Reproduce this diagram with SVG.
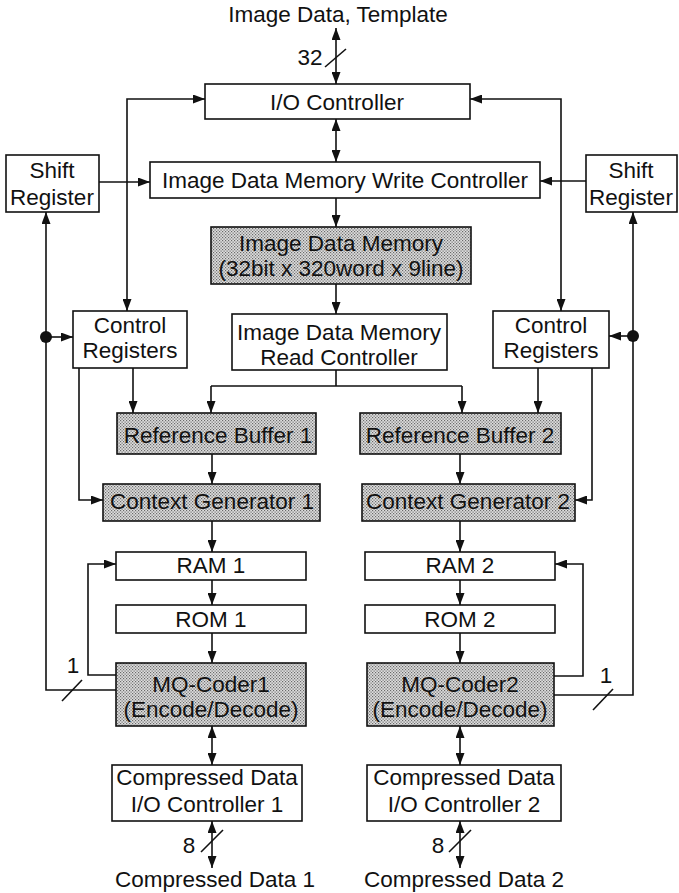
<svg xmlns="http://www.w3.org/2000/svg" width="679" height="893" viewBox="0 0 679 893">
  <style>
    .box { fill: #ffffff; stroke: #111111; stroke-width: 1.6; }
    .shade { fill: url(#halftone); stroke: #111111; stroke-width: 1.6; }
    .lbl { font-family: "Liberation Sans", Arial, Helvetica, sans-serif; font-size: 22.5px; fill: #111111; text-anchor: middle; }
    .wire { fill: none; stroke: #111111; stroke-width: 1.6; }
    .arr { marker-end: url(#head); }
    .arr2 { marker-start: url(#head); marker-end: url(#head); }
  </style>
  <defs>
    <!-- halftone screen used for the shaded blocks -->
    <pattern id="halftone" width="3" height="3" patternUnits="userSpaceOnUse">
      <rect width="3" height="3" fill="#dedede"/>
      <rect x="0" y="0" width="1.2" height="1.2" fill="#6a6a6a"/>
      <rect x="1.5" y="1.5" width="1.2" height="1.2" fill="#6a6a6a"/>
    </pattern>
    <marker id="head" viewBox="0 0 12 9" refX="12" refY="4.5" markerWidth="12" markerHeight="9" markerUnits="userSpaceOnUse" orient="auto-start-reverse">
      <path d="M0,0 L12,4.5 L0,9 z" fill="#111111"/>
    </marker>
  </defs>

  <!-- external labels -->
  <text class="lbl" x="338" y="22">Image Data, Template</text>
  <text class="lbl" x="310" y="65">32</text>
  <text class="lbl" x="73" y="673">1</text>
  <text class="lbl" x="606" y="683">1</text>
  <text class="lbl" x="189" y="853">8</text>
  <text class="lbl" x="438" y="853">8</text>
  <text class="lbl" x="215" y="887">Compressed Data 1</text>
  <text class="lbl" x="464" y="887">Compressed Data 2</text>

  <!-- connectors -->
  <g id="connectors">
    <line class="wire arr2" x1="336" y1="28" x2="336" y2="84"/>
    <line class="wire" x1="325" y1="67" x2="346" y2="49"/>
    <line class="wire arr2" x1="336" y1="119" x2="336" y2="162"/>
    <path class="wire arr2" d="M127,311 V99 H205"/>
    <path class="wire arr2" d="M561,311 V99 H470"/>
    <line class="wire arr" x1="99" y1="182" x2="150" y2="182"/>
    <line class="wire arr" x1="586" y1="181" x2="540" y2="181"/>
    <line class="wire arr" x1="336" y1="198" x2="336" y2="227"/>
    <line class="wire arr" x1="336" y1="284" x2="336" y2="314"/>

    <!-- read controller fan-out -->
    <path class="wire" d="M336,370 V386 M211,386 H462"/>
    <path class="wire arr" d="M211,386 V413"/>
    <path class="wire arr" d="M462,386 V413"/>

    <!-- control registers to buffers and context generators -->
    <line class="wire arr" x1="133" y1="368" x2="133" y2="413"/>
    <path class="wire arr" d="M79,368 V500 H103"/>
    <line class="wire arr" x1="538" y1="368" x2="538" y2="413"/>
    <path class="wire arr" d="M592,368 V500 H575"/>

    <!-- channel 1 pipeline -->
    <line class="wire arr" x1="212" y1="454" x2="212" y2="484"/>
    <line class="wire arr" x1="212" y1="521" x2="212" y2="552"/>
    <line class="wire arr" x1="212" y1="580" x2="212" y2="605"/>
    <line class="wire arr" x1="212" y1="633" x2="212" y2="663"/>
    <line class="wire arr2" x1="212" y1="726" x2="212" y2="765"/>
    <line class="wire arr2" x1="212" y1="821" x2="212" y2="868"/>
    <line class="wire" x1="201" y1="852" x2="223" y2="830"/>

    <!-- channel 2 pipeline -->
    <line class="wire arr" x1="460" y1="454" x2="460" y2="484"/>
    <line class="wire arr" x1="460" y1="521" x2="460" y2="552"/>
    <line class="wire arr" x1="460" y1="580" x2="460" y2="605"/>
    <line class="wire arr" x1="460" y1="633" x2="460" y2="663"/>
    <line class="wire arr2" x1="460" y1="726" x2="460" y2="765"/>
    <line class="wire arr2" x1="460" y1="821" x2="460" y2="868"/>
    <line class="wire" x1="449" y1="852" x2="471" y2="830"/>

    <!-- coder feedback into RAM -->
    <path class="wire arr" d="M116,675 H88 V564 H116"/>
    <path class="wire arr" d="M554,676 H583 V564 H555"/>

    <!-- coder output bit to shift registers and control registers -->
    <path class="wire arr" d="M116,690 H46 V212"/>
    <line class="wire" x1="62" y1="701" x2="82" y2="680"/>
    <circle cx="46" cy="337" r="6" fill="#111111"/>
    <line class="wire arr" x1="46" y1="337" x2="73" y2="337"/>
    <path class="wire arr" d="M554,695 H633 V212"/>
    <line class="wire" x1="593" y1="710" x2="613" y2="689"/>
    <circle cx="633" cy="336" r="6" fill="#111111"/>
    <line class="wire arr" x1="633" y1="336" x2="609" y2="336"/>
  </g>

  <!-- blocks -->
  <g id="io-controller">
    <rect class="box" x="205" y="84" width="265" height="35"/>
    <text class="lbl" x="337" y="110">I/O Controller</text>
  </g>
  <g id="write-controller">
    <rect class="box" x="150" y="162" width="390" height="36"/>
    <text class="lbl" x="345" y="188">Image Data Memory Write Controller</text>
  </g>
  <g id="shift-register-1">
    <rect class="box" x="6" y="155" width="93" height="57"/>
    <text class="lbl" x="52" y="178">Shift</text>
    <text class="lbl" x="52" y="205">Register</text>
  </g>
  <g id="shift-register-2">
    <rect class="box" x="586" y="155" width="91" height="57"/>
    <text class="lbl" x="631" y="178">Shift</text>
    <text class="lbl" x="631" y="205">Register</text>
  </g>
  <g id="image-memory">
    <rect class="shade" x="211" y="227" width="260" height="57"/>
    <text class="lbl" x="341" y="251">Image Data Memory</text>
    <text class="lbl" x="341" y="276">(32bit x 320word x 9line)</text>
  </g>
  <g id="control-registers-1">
    <rect class="box" x="73" y="311" width="114" height="57"/>
    <text class="lbl" x="130" y="333">Control</text>
    <text class="lbl" x="130" y="358">Registers</text>
  </g>
  <g id="read-controller">
    <rect class="box" x="232" y="314" width="215" height="56"/>
    <text class="lbl" x="339" y="340">Image Data Memory</text>
    <text class="lbl" x="339" y="365">Read Controller</text>
  </g>
  <g id="control-registers-2">
    <rect class="box" x="493" y="311" width="116" height="57"/>
    <text class="lbl" x="551" y="333">Control</text>
    <text class="lbl" x="551" y="358">Registers</text>
  </g>
  <g id="reference-buffer-1">
    <rect class="shade" x="117" y="413" width="199" height="41"/>
    <text class="lbl" x="218" y="443">Reference Buffer 1</text>
  </g>
  <g id="reference-buffer-2">
    <rect class="shade" x="360" y="413" width="201" height="41"/>
    <text class="lbl" x="460" y="443">Reference Buffer 2</text>
  </g>
  <g id="context-generator-1">
    <rect class="shade" x="103" y="484" width="217" height="37"/>
    <text class="lbl" x="212" y="509">Context Generator 1</text>
  </g>
  <g id="context-generator-2">
    <rect class="shade" x="362" y="484" width="213" height="37"/>
    <text class="lbl" x="468" y="509">Context Generator 2</text>
  </g>
  <g id="ram-1">
    <rect class="box" x="116" y="552" width="190" height="28"/>
    <text class="lbl" x="211" y="573">RAM 1</text>
  </g>
  <g id="ram-2">
    <rect class="box" x="365" y="552" width="190" height="28"/>
    <text class="lbl" x="460" y="573">RAM 2</text>
  </g>
  <g id="rom-1">
    <rect class="box" x="116" y="605" width="190" height="28"/>
    <text class="lbl" x="211" y="627">ROM 1</text>
  </g>
  <g id="rom-2">
    <rect class="box" x="365" y="605" width="190" height="28"/>
    <text class="lbl" x="460" y="627">ROM 2</text>
  </g>
  <g id="mq-coder-1">
    <rect class="shade" x="116" y="663" width="190" height="63"/>
    <text class="lbl" x="211" y="692">MQ-Coder1</text>
    <text class="lbl" x="211" y="717">(Encode/Decode)</text>
  </g>
  <g id="mq-coder-2">
    <rect class="shade" x="367" y="663" width="187" height="63"/>
    <text class="lbl" x="460" y="692">MQ-Coder2</text>
    <text class="lbl" x="460" y="717">(Encode/Decode)</text>
  </g>
  <g id="cd-io-controller-1">
    <rect class="box" x="112" y="765" width="190" height="56"/>
    <text class="lbl" x="207" y="785">Compressed Data</text>
    <text class="lbl" x="207" y="812">I/O Controller 1</text>
  </g>
  <g id="cd-io-controller-2">
    <rect class="box" x="367" y="765" width="194" height="56"/>
    <text class="lbl" x="464" y="785">Compressed Data</text>
    <text class="lbl" x="464" y="812">I/O Controller 2</text>
  </g>
</svg>
